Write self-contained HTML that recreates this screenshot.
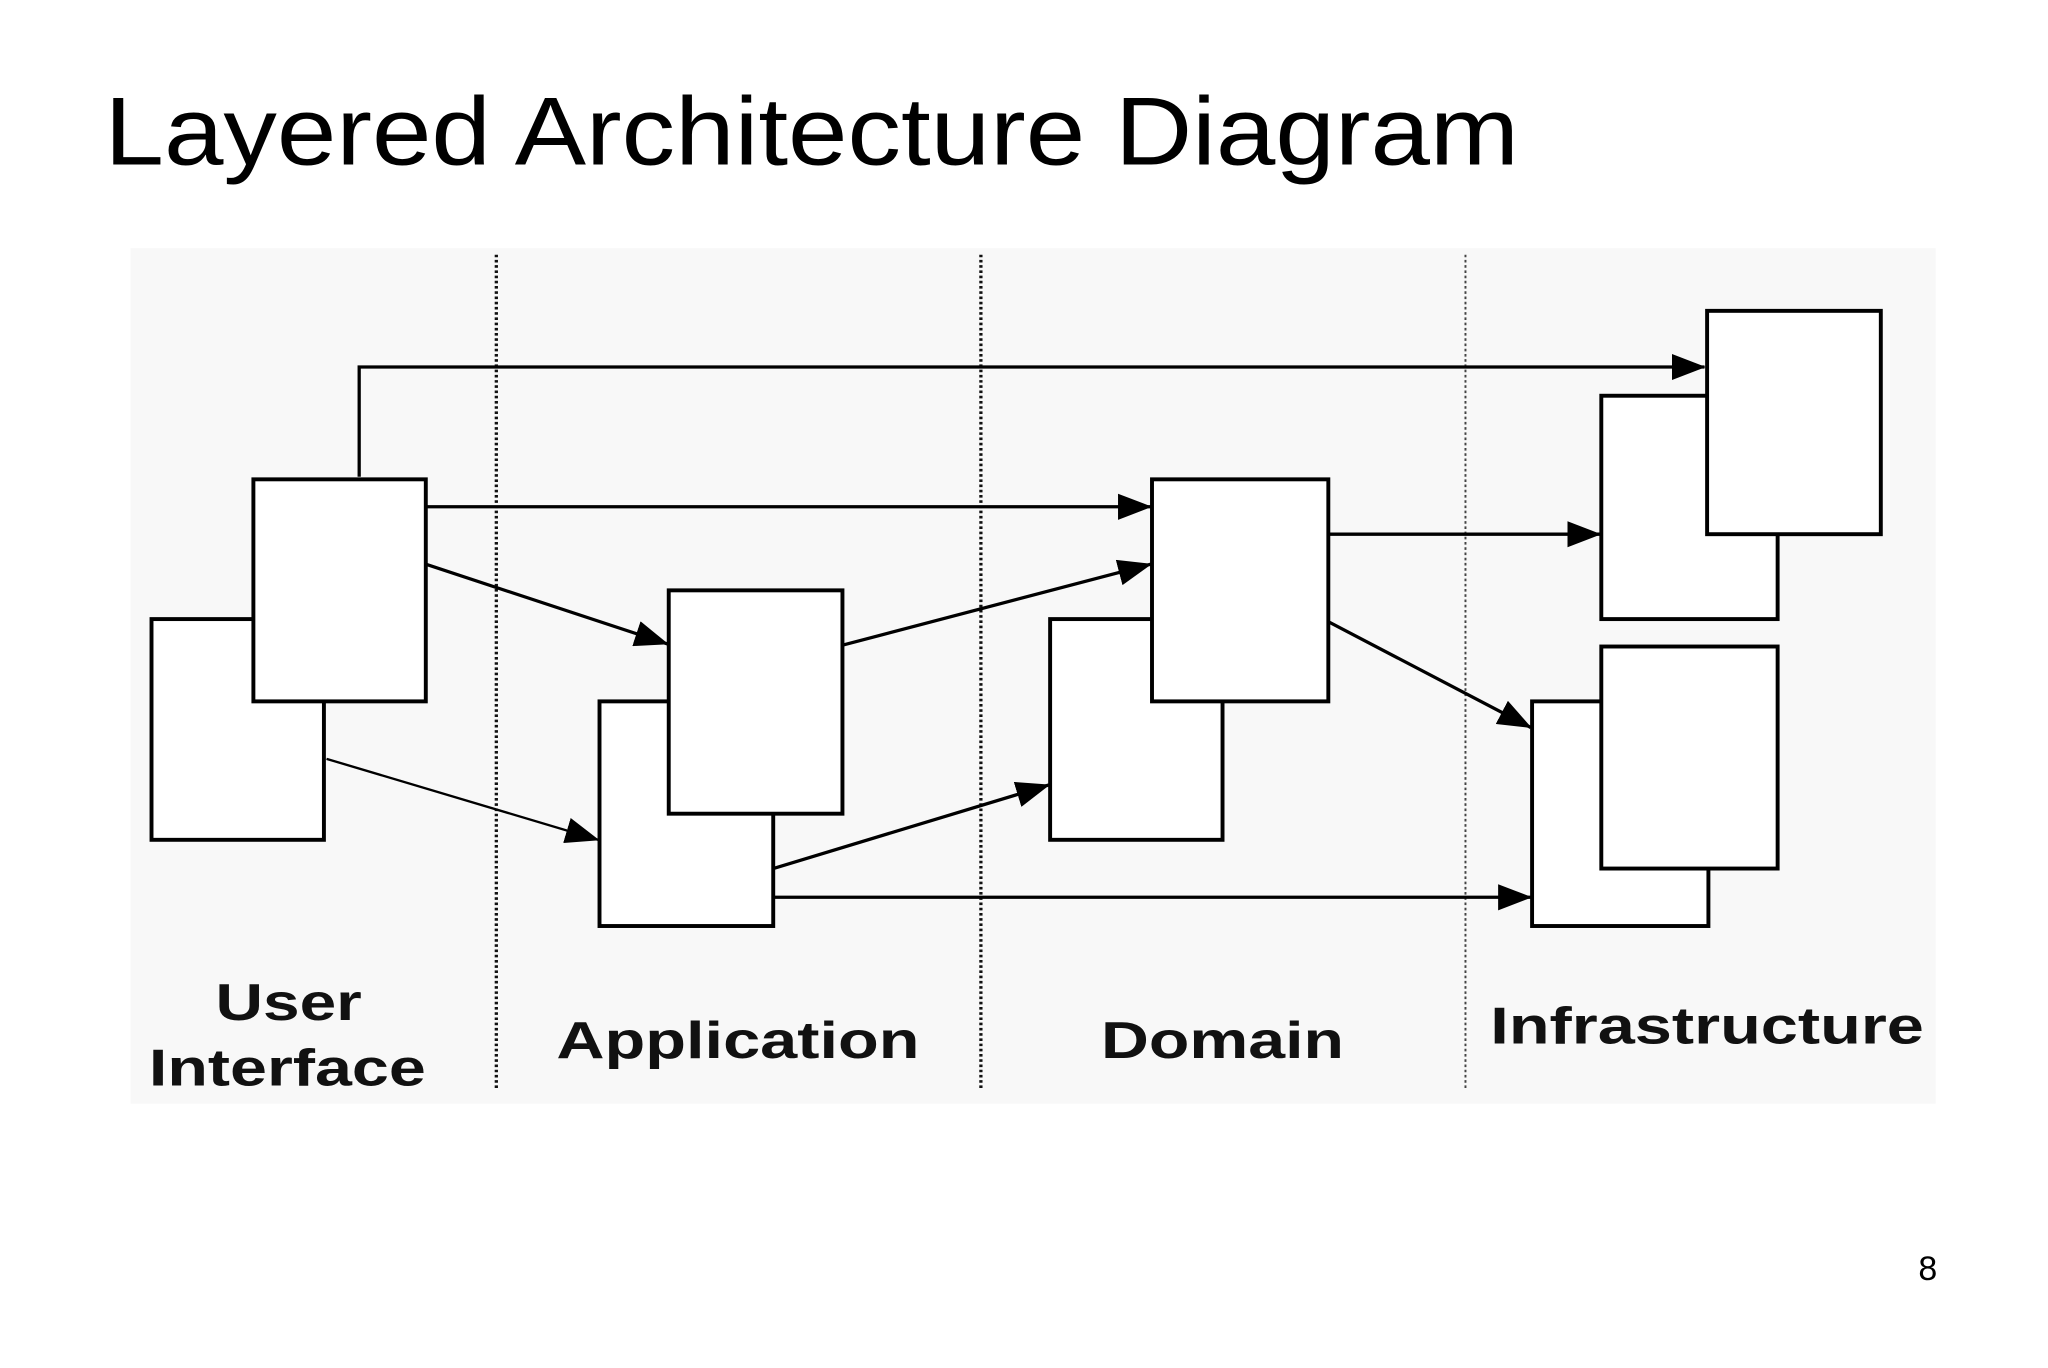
<!DOCTYPE html>
<html><head><meta charset="utf-8"><style>
html,body{margin:0;padding:0;background:#fff;}
svg{display:block;}
</style></head><body>
<svg width="2048" height="1368" viewBox="0 0 1568 1047.4" preserveAspectRatio="none" xmlns="http://www.w3.org/2000/svg">
<defs>
<marker id="a" markerWidth="12" markerHeight="10" refX="11" refY="5" orient="auto" markerUnits="userSpaceOnUse" viewBox="0 0 12 10">
<path d="M0,0 L12,5 L0,10 Z" fill="#000"/>
</marker>
<marker id="b" markerWidth="26" markerHeight="20" refX="25" refY="10" orient="auto" markerUnits="userSpaceOnUse" viewBox="0 0 26 20">
<path d="M0,0 L26,10 L0,20 Z" fill="#000"/>
</marker>
</defs>
<rect width="1568" height="1047.4" fill="#fff"/>
<text x="80" y="126" font-family="Liberation Sans, sans-serif" font-size="74" textLength="1083" lengthAdjust="spacingAndGlyphs">Layered Architecture Diagram</text>
<rect x="100" y="190" width="1382" height="655" fill="#f8f8f8"/>
<g stroke="#111" stroke-width="2.5" stroke-dasharray="2,2">
<line x1="380" y1="195" x2="380" y2="833"/>
<line x1="751" y1="195" x2="751" y2="833"/>
<line x1="1122" y1="195" x2="1122" y2="833" stroke-width="1.5" stroke="#444"/>
</g>
<g fill="#fff" stroke="#000" stroke-width="3">
<rect x="116" y="474" width="132" height="169"/>
<rect x="194" y="367" width="132" height="170"/>
<rect x="459" y="537" width="133" height="172"/>
<rect x="512" y="452" width="133" height="171"/>
<rect x="804" y="474" width="132" height="169"/>
<rect x="882" y="367" width="135" height="170"/>
<rect x="1226" y="303" width="135" height="171"/>
<rect x="1307" y="238" width="133" height="171"/>
<rect x="1173" y="537" width="135" height="172"/>
<rect x="1226" y="495" width="135" height="170"/>
</g>
<g stroke="#000" stroke-width="2.5" fill="none" marker-end="url(#b)">
<polyline points="275,365 275,281 1305,281"/>
<line x1="326" y1="388" x2="881" y2="388"/>
<line x1="326" y1="432" x2="511" y2="493"/>
<line x1="250" y1="581" x2="458" y2="643" stroke-width="1.8"/>
<line x1="645" y1="494" x2="881" y2="432"/>
<line x1="592" y1="665" x2="803" y2="601"/>
<line x1="592" y1="687" x2="1172" y2="687"/>
<line x1="1017" y1="409" x2="1225" y2="409"/>
<line x1="1017" y1="476" x2="1172" y2="557"/>
</g>
<g font-family="Liberation Sans, sans-serif" font-weight="bold" font-size="40" text-anchor="middle" fill="#111">
<text x="221" y="781" textLength="112" lengthAdjust="spacingAndGlyphs">User</text>
<text x="220" y="831" textLength="212" lengthAdjust="spacingAndGlyphs">Interface</text>
<text x="565" y="810" textLength="278" lengthAdjust="spacingAndGlyphs">Application</text>
<text x="936" y="810" textLength="186" lengthAdjust="spacingAndGlyphs">Domain</text>
<text x="1307" y="799" textLength="332" lengthAdjust="spacingAndGlyphs">Infrastructure</text>
</g>
<text x="1476" y="980" font-family="Liberation Sans, sans-serif" font-size="26" text-anchor="middle">8</text>
</svg>
</body></html>
